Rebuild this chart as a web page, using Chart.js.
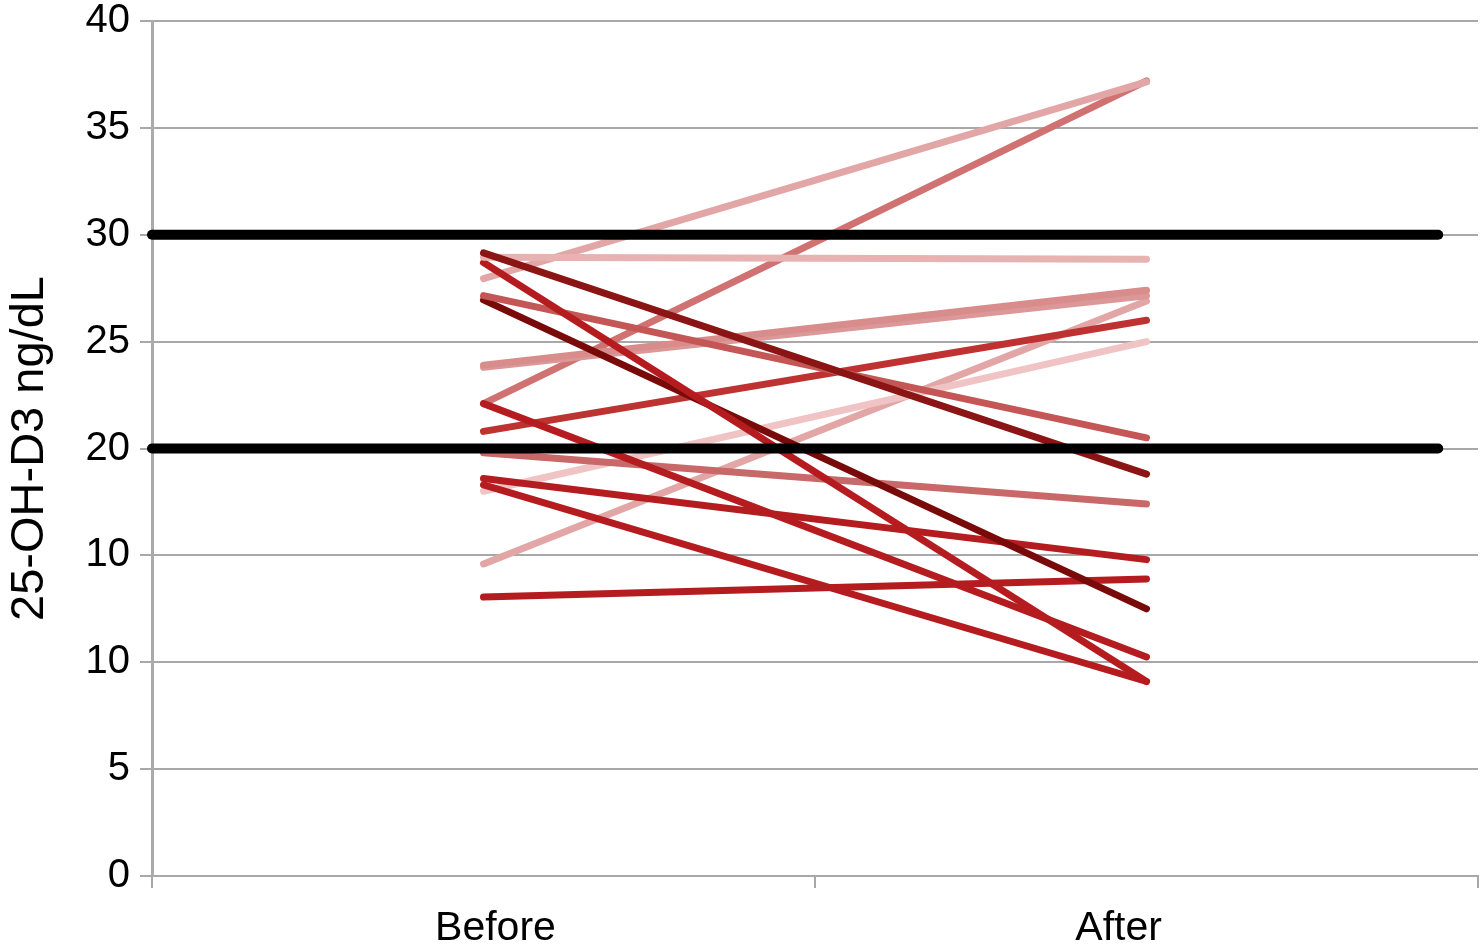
<!DOCTYPE html>
<html>
<head>
<meta charset="utf-8">
<script src="https://cdn.jsdelivr.net/npm/chart.js@4.4.1/dist/chart.umd.min.js"></script>
<style>
html,body{margin:0;padding:0;background:#fff;}
#wrap{position:relative;width:1482px;height:949px;}
</style>
</head>
<body>
<div id="wrap"><canvas id="c" width="1482" height="949"></canvas></div>
<script>
// ---- data ----
const categories = ['Before', 'After'];
const beforeValues = [29.15, 28.95, 28.7, 27.95, 27.15, 26.95, 23.9, 23.8, 22.1, 22.1, 20.8, 19.8, 18.6, 18.3, 18.0, 14.6, 13.05];
const afterValues  = [18.8, 28.85, 9.1, 37.15, 20.5, 12.5, 27.4, 27.15, 10.25, 37.2, 26.0, 17.4, 14.8, 9.1, 25.0, 26.9, 13.9];
const thresholds = [30, 20];
const yTickLabels = ['0', '5', '10', '10', '20', '25', '30', '35', '40'];

// ---- styles ----
const lineColors = ['#8b1414', '#e6b2b2', '#b51c1f', '#e3a6a6', '#c45656', '#780a0a', '#d88c8c', '#dc9898',
                    '#b51c1f', '#d07272', '#bf3232', '#c86868', '#b51c1f', '#b51c1f', '#f0c4c4', '#e3a6a6', '#b51c1f'];
const labelShift = [0.018, -0.042];
const thresholdEnd = 0.97;

const xOf = i => i + 0.5;
const xMax = categories.length;

const datasets = [];
thresholds.forEach(t => {
  datasets.push({
    data: [{x: 0, y: t}, {x: xMax * thresholdEnd, y: t}],
    borderColor: '#000', borderWidth: 10, borderCapStyle: 'round',
    pointRadius: 0, clip: false, order: 0
  });
});
beforeValues.forEach((b, i) => {
  datasets.push({
    data: [{x: xOf(0), y: b}, {x: xOf(1), y: afterValues[i]}],
    borderColor: lineColors[i], borderWidth: 7, borderCapStyle: 'round',
    pointRadius: 0, clip: false, order: 1
  });
});

const FONT = '"Liberation Sans", Arial, Helvetica, sans-serif';

new Chart(document.getElementById('c'), {
  type: 'line',
  data: { datasets },
  options: {
    responsive: false,
    animation: false,
    events: [],
    layout: { padding: { top: 21, right: 4, bottom: 0, left: 0 } },
    plugins: { legend: { display: false }, tooltip: { enabled: false } },
    scales: {
      x: {
        type: 'linear', min: 0, max: xMax,
        afterBuildTicks: s => {
          const t = [];
          for (let i = 0; i <= xMax; i++) {
            t.push({ value: i });
            if (i < xMax) t.push({ value: xOf(i) + labelShift[i] });
          }
          s.ticks = t;
        },
        afterFit: s => { s.height = 73; s.paddingLeft = 0; s.paddingRight = 0; },
        border: { display: true, color: '#a8a8a8', width: 2 },
        grid: {
          drawOnChartArea: false, drawTicks: true, tickLength: 12,
          tickColor: ctx => Number.isInteger(ctx.tick.value) ? '#a8a8a8' : 'rgba(0,0,0,0)',
          lineWidth: 2
        },
        ticks: {
          autoSkip: false, maxRotation: 0, padding: 16,
          color: '#000', font: { family: FONT, size: 41 },
          callback: v => Number.isInteger(v) ? '' : categories[Math.floor(v)]
        }
      },
      y: {
        min: 0, max: 40,
        afterFit: s => { s.width = 152; s.paddingTop = 0; s.paddingBottom = 0; },
        border: { display: true, color: '#ababab', width: 3 },
        grid: { color: '#a8a8a8', lineWidth: 2, tickLength: 12, drawTicks: true },
        ticks: {
          stepSize: 5, padding: 10, color: '#000',
          font: { family: FONT, size: 40, lineHeight: 1.05 },
          callback: v => yTickLabels[Math.round(v / 5)]
        },
        title: {
          display: true, text: '25-OH-D3 ng/dL', color: '#000',
          font: { family: FONT, size: 47, lineHeight: 1.2 },
          padding: { top: 2, bottom: 0 }
        }
      }
    }
  }
});
</script>
</body>
</html>
